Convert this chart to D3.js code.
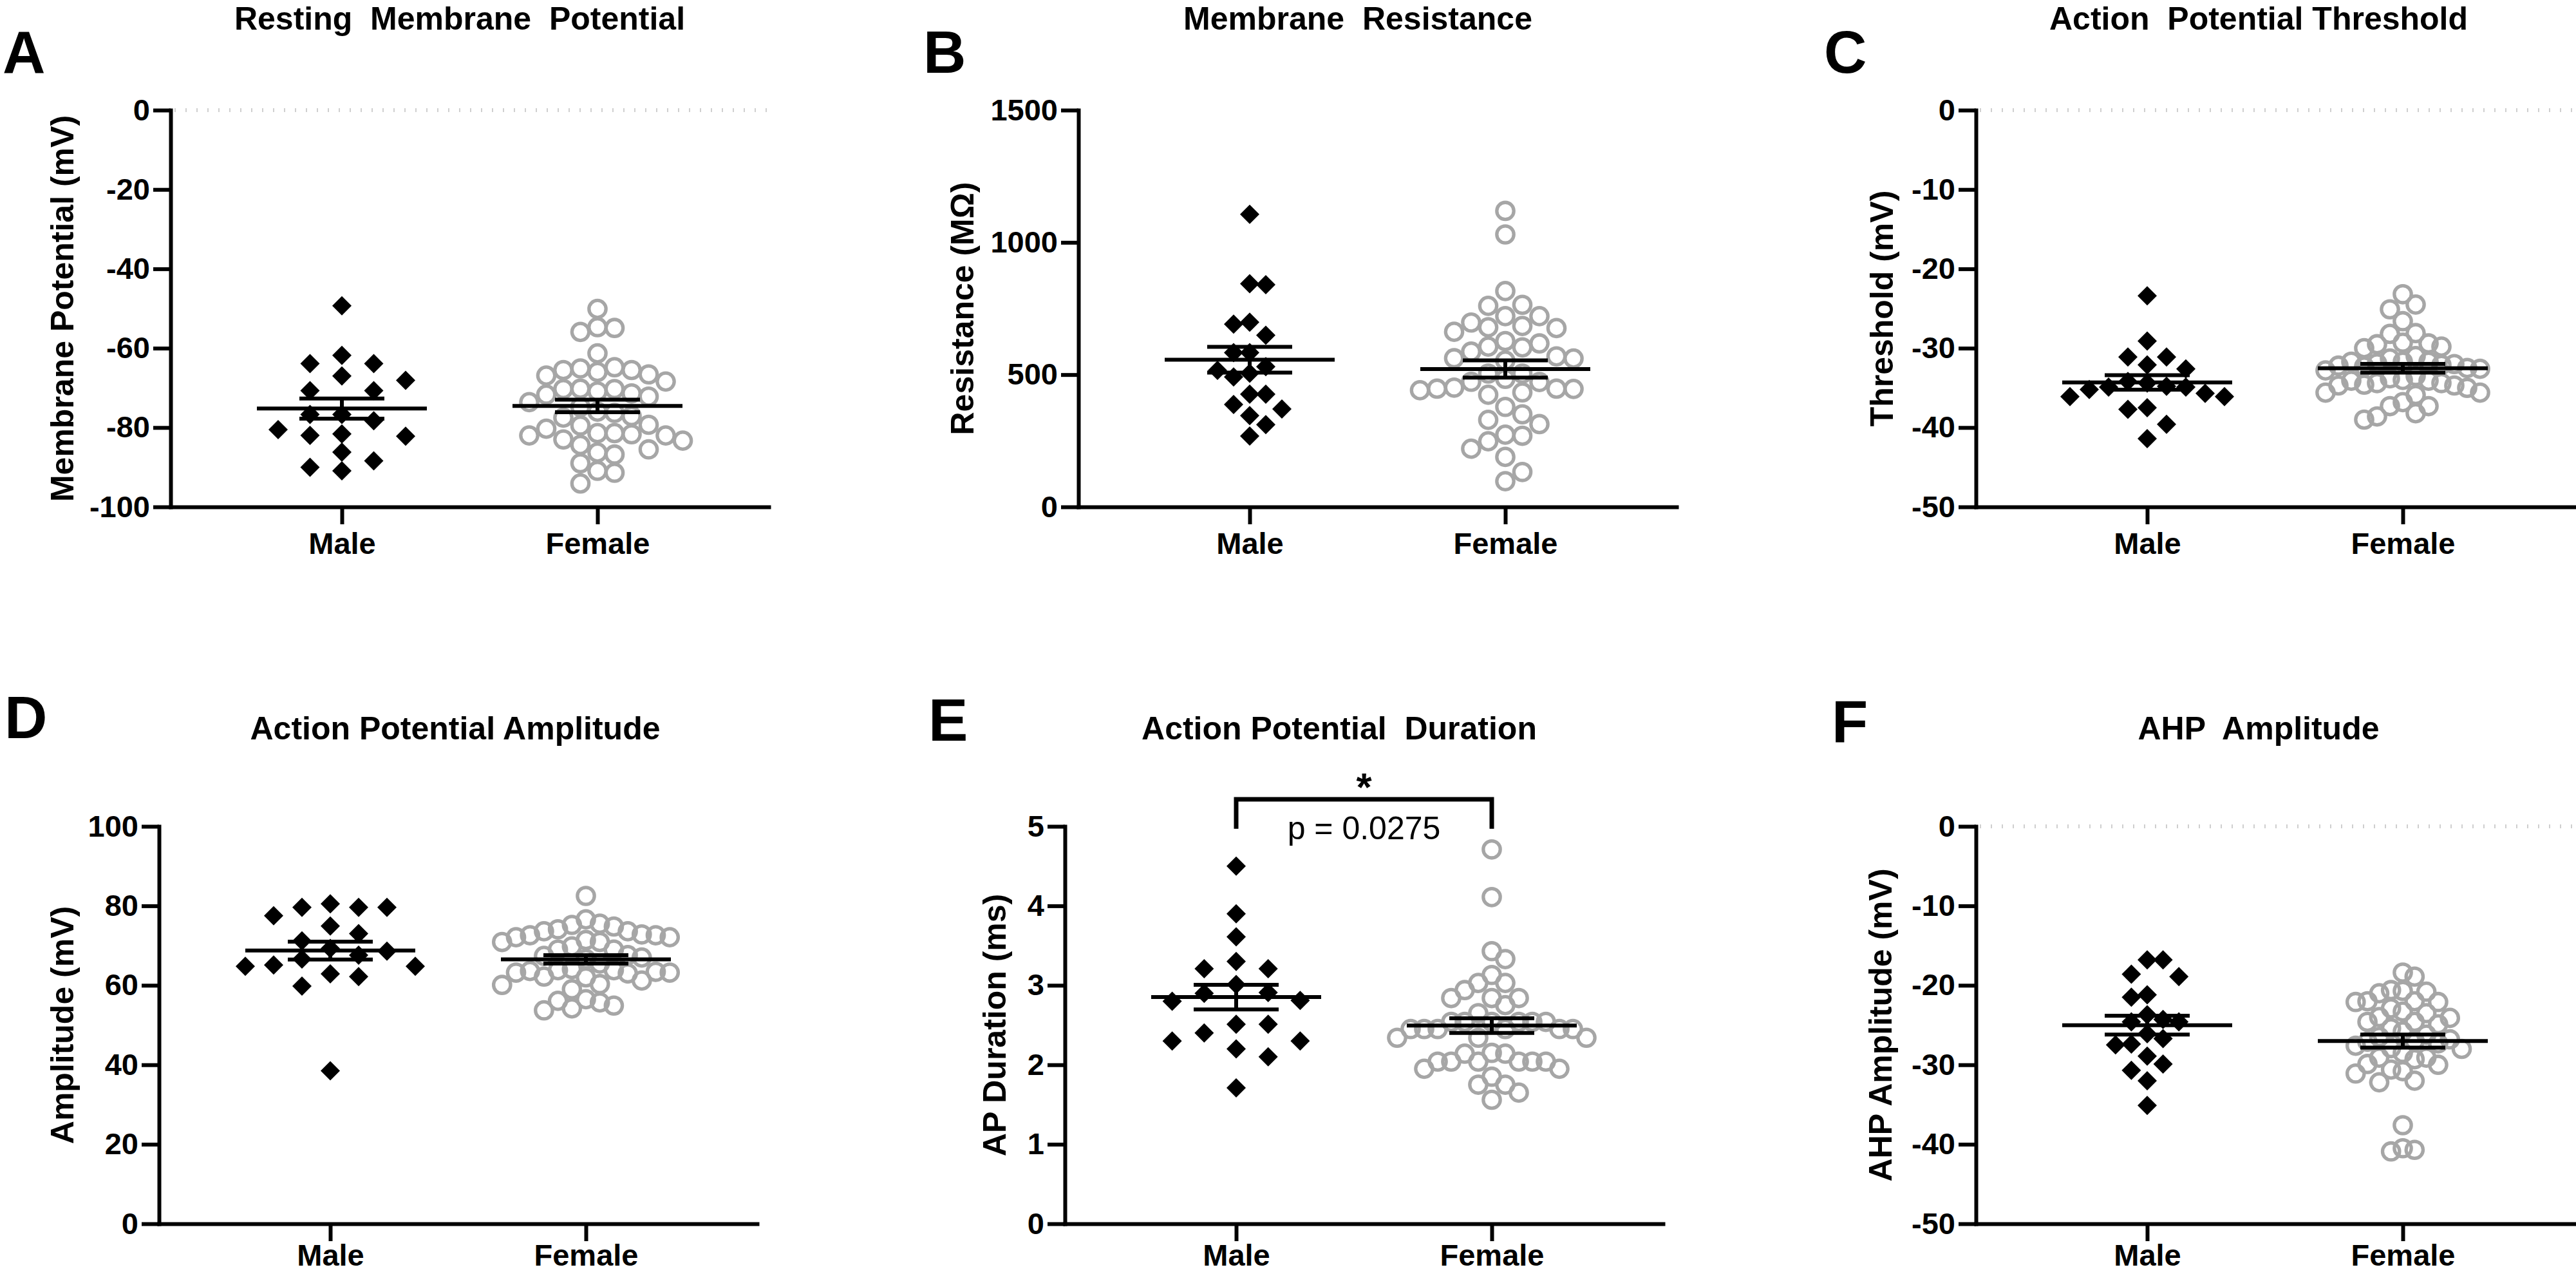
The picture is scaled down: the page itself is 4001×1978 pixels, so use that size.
<!DOCTYPE html>
<html>
<head>
<meta charset="utf-8">
<script src="https://cdn.jsdelivr.net/npm/d3@7"></script>
<style>
html, body { margin: 0; padding: 0; background: #ffffff; }
svg text { font-family: "Liberation Sans", Arial, sans-serif; white-space: pre; }
</style>
</head>
<body>
<svg id="chart" width="4001" height="1978" xml:space="preserve"></svg>
<script>
// ---------------- DATA ----------------
const categories = ["Male", "Female"];

// A: Resting membrane potential (mV)
const rmpMale = [-49.3,-63.9,-63.9,-61.8,-68.1,-67.0,-70.7,-70.7,-78.3,-76.7,-82.0,-81.6,-80.5,-76.7,-82.2,-86.2,-88.4,-90.0,-90.9];
const rmpFemale = [-50.1,-54.7,-55.9,-54.9,-61.3,-65.1,-65.5,-66.0,-65.5,-64.8,-66.9,-66.6,-68.4,-70.2,-70.3,-70.9,-71.4,-70.3,-71.7,-72.2,-73.6,-74.8,-77.5,-76.0,-76.3,-77.1,-79.3,-81.4,-81.4,-79.5,-83.3,-82.0,-80.3,-83.0,-81.7,-82.0,-85.5,-84.4,-86.8,-86.3,-89.0,-91.4,-90.9,-94.1];
const rmpTicks = [0,-20,-40,-60,-80,-100];

// B: Membrane resistance (MOhm)
const rinMale = [1106,840,844,698,691,649,583,583,530,516,505,491,426,426,387,370,345,311,268];
const rinFemale = [1119,1030,816,760,764,721,721,697,676,684,662,679,606,627,618,603,587,561,569,562,553,504,484,473,504,472,424,447,441,451,433,447,446,378,350,329,313,273,248,269,220,189,132,97];
const rinTicks = [0,500,1000,1500];

// C: AP threshold (mV)
const thrMale = [-23.4,-29.1,-31.1,-31.1,-32.1,-32.6,-35.2,-34.9,-34.8,-34.2,-34.4,-34.9,-36.1,-36.1,-35.7,-37.5,-37.7,-39.6,-41.4];
const thrFemale = [-23.2,-24.5,-25.1,-26.6,-28.1,-28.2,-29.5,-29.8,-30.0,-29.4,-29.3,-31.0,-31.7,-32.0,-31.9,-31.3,-31.7,-31.7,-32.2,-32.6,-32.5,-32.8,-32.3,-32.1,-35.0,-34.4,-34.1,-34.1,-34.4,-34.6,-34.7,-33.5,-34.7,-34.0,-33.8,-35.9,-35.6,-35.6,-37.3,-37.3,-36.8,-38.6,-38.2,-39.0];
const thrTicks = [0,-10,-20,-30,-40,-50];

// D: AP amplitude (mV)
const ampMale = [79.6,79.6,79.6,80.5,77.5,74.9,73.0,71.2,68.6,69.3,67.6,64.8,64.8,65.1,66.6,62.2,62.9,59.8,38.5];
const ampFemale = [82.5,76.6,75.5,74.8,75.2,74.1,73.6,73.6,72.8,72.6,72.6,72.1,72.1,71.4,70.9,70.9,69.8,69.0,69.0,67.6,67.0,67.4,66.6,65.5,63.8,63.8,64.1,63.4,63.6,63.0,63.2,63.2,62.0,62.2,61.2,60.1,60.3,59.0,56.5,56.1,55.7,54.2,54.9,53.7];
const ampTicks = [0,20,40,60,80,100];

// E: AP duration (ms)
const durMale = [4.50,3.90,3.61,3.30,3.21,3.21,3.01,2.91,2.90,2.81,2.80,2.51,2.51,2.40,2.30,2.30,2.20,2.10,1.71];
const durFemale = [4.71,4.11,3.43,3.33,3.13,3.03,3.03,2.94,2.84,2.84,2.84,2.75,2.65,2.54,2.54,2.54,2.54,2.54,2.54,2.45,2.45,2.45,2.45,2.45,2.45,2.34,2.34,2.34,2.14,2.14,2.15,1.95,1.95,2.04,2.04,2.04,2.04,2.04,2.04,1.85,1.75,1.75,1.65,1.56];
const durTicks = [0,1,2,3,4,5];
const durSignif = { star: "*", pText: "p = 0.0275", barValue: 5.34, legValue: 4.97 };

// F: AHP amplitude (mV)
const ahpMale = [-16.8,-16.8,-18.9,-18.6,-21.5,-21.2,-24.6,-24.3,-23.7,-24.6,-27.4,-27.5,-26.1,-26.7,-29.9,-28.9,-30.7,-32.0,-35.1];
const ahpFemale = [-18.4,-18.9,-20.6,-20.7,-20.8,-21.0,-22.0,-22.0,-22.1,-22.1,-22.9,-23.3,-23.5,-24.0,-24.1,-24.6,-24.6,-24.9,-25.4,-25.8,-26.2,-26.5,-26.8,-27.0,-27.1,-27.3,-27.6,-27.9,-28.0,-28.5,-29.1,-29.1,-29.3,-29.9,-30.0,-30.6,-30.8,-31.1,-32.0,-32.2,-37.6,-40.5,-40.7,-40.9];
const ahpTicks = [0,-10,-20,-30,-40,-50];

// ---------------- LAYOUT / STYLE ----------------
const plotW = 929;
const panels = [
  {letter:"A", title:"Resting  Membrane  Potential", ylabel:"Membrane Potential (mV)", male:rmpMale, female:rmpFemale, ticks:rmpTicks, domain:[-100,0], zeroLine:true,
   ax:265, top:171, bottom:787, titleX:714, titleY:46, letterX:4, letterY:113, ylabX:114, mStep:49.5, fStep:26.5, xPad:13},
  {letter:"B", title:"Membrane  Resistance", ylabel:"Resistance (M\u03A9)", male:rinMale, female:rinFemale, ticks:rinTicks, domain:[0,1500], zeroLine:false,
   ax:1675, top:171, bottom:787, titleX:2109, titleY:46, letterX:1434, letterY:113, ylabX:1512, mStep:25, fStep:26.5, xPad:13},
  {letter:"C", title:"Action  Potential Threshold", ylabel:"Threshold (mV)", male:thrMale, female:thrFemale, ticks:thrTicks, domain:[-50,0], zeroLine:true,
   ax:3069, top:171, bottom:787, titleX:3508, titleY:46, letterX:2833, letterY:113, ylabX:2940, mStep:30, fStep:20, xPad:13},
  {letter:"D", title:"Action Potential Amplitude", ylabel:"Amplitude (mV)", male:ampMale, female:ampFemale, ticks:ampTicks, domain:[0,100], zeroLine:false,
   ax:247, top:1283, bottom:1900, titleX:707, titleY:1148, letterX:7, letterY:1146, ylabX:114, mStep:44, fStep:21.7, xPad:5},
  {letter:"E", title:"Action Potential  Duration", ylabel:"AP Duration (ms)", male:durMale, female:durFemale, ticks:durTicks, domain:[0,5], zeroLine:false,
   ax:1654, top:1283, bottom:1900, titleX:2080, titleY:1148, letterX:1442, letterY:1150, ylabX:1562, mStep:49.7, fStep:21, xPad:5, signif:durSignif},
  {letter:"F", title:"AHP  Amplitude", ylabel:"AHP Amplitude (mV)", male:ahpMale, female:ahpFemale, ticks:ahpTicks, domain:[-50,0], zeroLine:true,
   ax:3069, top:1283, bottom:1900, titleX:3508, titleY:1148, letterX:2845, letterY:1152, ylabX:2938, mStep:24.6, fStep:18.3, xPad:5}
];

const GREY = "#a6a6a6";
const LW = 6;

// column-based dodge (beeswarm) layout
function swarm(values, yScale, cx, step, hMin) {
  const pts = values.map(v => ({ v, y: yScale(v) })).sort((a, b) => a.y - b.y);
  const cols = new Map();
  let leftCount = 0, rightCount = 0;
  pts.forEach(p => {
    for (let k = 0; k < 60; k++) {
      let cands;
      if (k === 0) cands = [0];
      else cands = (rightCount <= leftCount) ? [k, -k] : [-k, k];
      let found = null;
      for (const c of cands) {
        const list = cols.get(c) || [];
        if (list.every(yy => Math.abs(yy - p.y) >= hMin)) { found = c; break; }
      }
      if (found !== null) {
        if (!cols.has(found)) cols.set(found, []);
        cols.get(found).push(p.y);
        if (found > 0) rightCount++; else if (found < 0) leftCount++;
        p.x = cx + found * step;
        break;
      }
    }
  });
  return pts;
}

const diamondType = {
  draw(ctx, size) {
    const r = Math.sqrt(size / 2);
    ctx.moveTo(0, -r); ctx.lineTo(r, 0); ctx.lineTo(0, r); ctx.lineTo(-r, 0); ctx.closePath();
  }
};

const svg = d3.select("#chart");
svg.append("rect").attr("width", 4001).attr("height", 1978).attr("fill", "#fff");

panels.forEach(p => {
  const g = svg.append("g");
  const y = d3.scaleLinear().domain(p.domain).range([p.bottom, p.top]);
  const x = d3.scalePoint().domain(categories).range([p.ax, p.ax + plotW]).padding(0.67);

  if (p.zeroLine) {
    g.append("line")
      .attr("x1", p.ax + 6).attr("x2", p.ax + plotW)
      .attr("y1", y(0)).attr("y2", y(0))
      .attr("stroke", "#cfcfcf").attr("stroke-width", 6)
      .attr("stroke-dasharray", "2,15");
  }

  // Y axis
  const ya = g.append("g").attr("transform", `translate(${p.ax},0)`)
    .call(d3.axisLeft(y).tickValues(p.ticks).tickSize(27).tickSizeOuter(0).tickPadding(5).tickFormat(d => String(d)));
  ya.select(".domain").attr("stroke", "#000").attr("stroke-width", LW).attr("stroke-linecap", "square");
  ya.selectAll(".tick line").attr("stroke", "#000").attr("stroke-width", LW);
  ya.selectAll(".tick text").attr("font-size", 47).attr("font-weight", "bold").attr("fill", "#000");

  // X axis
  const xa = g.append("g").attr("transform", `translate(0,${p.bottom})`)
    .call(d3.axisBottom(x).tickSize(27).tickSizeOuter(0).tickPadding(p.xPad));
  xa.select(".domain").attr("stroke", "#000").attr("stroke-width", LW).attr("stroke-linecap", "square");
  xa.selectAll(".tick line").attr("stroke", "#000").attr("stroke-width", LW);
  xa.selectAll(".tick text").attr("font-size", 47).attr("font-weight", "bold").attr("fill", "#000");

  // points
  const femalePts = swarm(p.female, y, x("Female"), p.fStep, 28);
  g.append("g").selectAll("circle").data(femalePts).join("circle")
    .attr("cx", d => d.x).attr("cy", d => d.y).attr("r", 13.2)
    .attr("fill", "none").attr("stroke", GREY).attr("stroke-width", 5.3);

  const malePts = swarm(p.male, y, x("Male"), p.mStep, 28);
  g.append("g").selectAll("path").data(malePts).join("path")
    .attr("d", d3.symbol().type(diamondType).size(2 * 15 * 15))
    .attr("transform", d => `translate(${d.x},${d.y})`)
    .attr("fill", "#000");

  // mean +/- SEM
  [["Male", p.male], ["Female", p.female]].forEach(([cat, vals]) => {
    const m = d3.mean(vals);
    const sem = d3.deviation(vals) / Math.sqrt(vals.length);
    const cx = x(cat);
    const eg = g.append("g").attr("stroke", "#000").attr("stroke-width", LW);
    eg.append("line").attr("x1", cx).attr("x2", cx).attr("y1", y(m + sem)).attr("y2", y(m - sem));
    eg.append("line").attr("x1", cx - 66).attr("x2", cx + 66).attr("y1", y(m + sem)).attr("y2", y(m + sem));
    eg.append("line").attr("x1", cx - 66).attr("x2", cx + 66).attr("y1", y(m - sem)).attr("y2", y(m - sem));
    eg.append("line").attr("x1", cx - 132).attr("x2", cx + 132).attr("y1", y(m)).attr("y2", y(m));
  });

  // titles / labels
  g.append("text").attr("x", p.titleX).attr("y", p.titleY).attr("text-anchor", "middle")
    .attr("font-size", 50).attr("font-weight", "bold").attr("fill", "#000").text(p.title);
  g.append("text").attr("x", p.letterX).attr("y", p.letterY)
    .attr("font-size", 92).attr("font-weight", "bold").attr("fill", "#000").text(p.letter);
  g.append("text")
    .attr("transform", `translate(${p.ylabX},${(p.top + p.bottom) / 2}) rotate(-90)`)
    .attr("text-anchor", "middle").attr("font-size", 50).attr("font-weight", "bold").attr("fill", "#000")
    .text(p.ylabel);

  // significance annotation
  if (p.signif) {
    const s = p.signif;
    const x1 = x("Male"), x2 = x("Female");
    g.append("path")
      .attr("d", `M${x1},${y(s.legValue)}V${y(s.barValue)}H${x2}V${y(s.legValue)}`)
      .attr("fill", "none").attr("stroke", "#000").attr("stroke-width", 7);
    g.append("text").attr("x", (x1 + x2) / 2).attr("y", y(s.barValue) + 2).attr("text-anchor", "middle")
      .attr("font-size", 62).attr("font-weight", "bold").attr("fill", "#000").text(s.star);
    g.append("text").attr("x", (x1 + x2) / 2).attr("y", y(s.legValue) + 16).attr("text-anchor", "middle")
      .attr("font-size", 50).attr("fill", "#000").text(s.pText);
  }
});
</script>
</body>
</html>
